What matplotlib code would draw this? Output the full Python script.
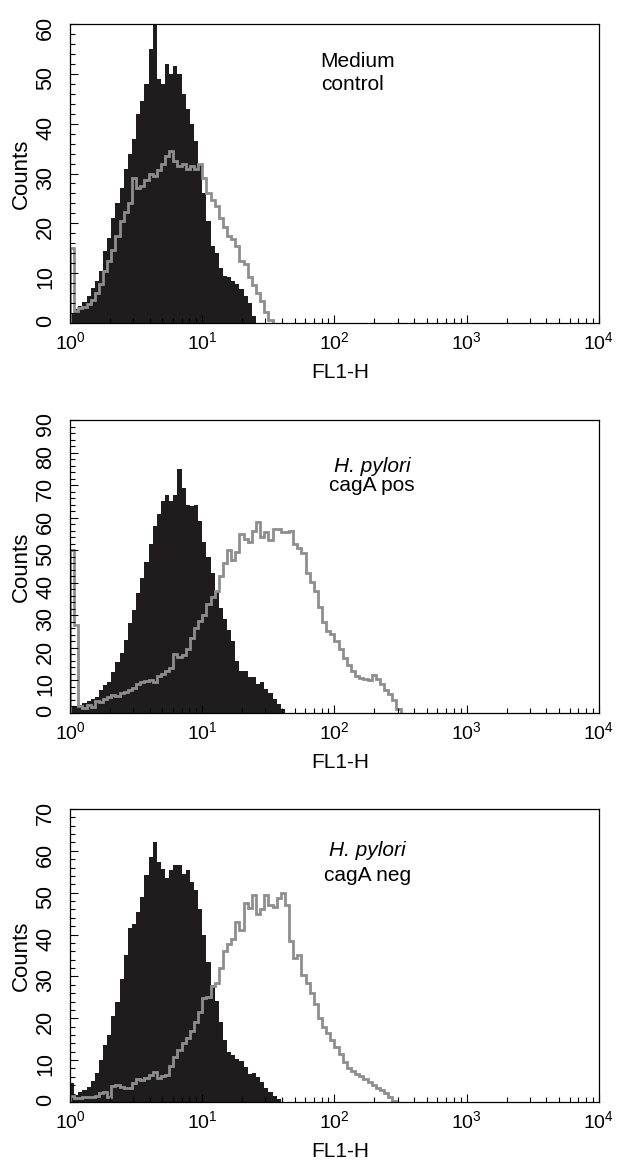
import numpy as np
import matplotlib
matplotlib.use("Agg")
import matplotlib.pyplot as plt
from matplotlib.ticker import MultipleLocator, LogLocator

plt.rcParams['font.family'] = ['Liberation Sans', 'DejaVu Sans']

# ====== DATA ======
# counts per channel; 32 channels per decade, first channel starts at 10^0
CH_PER_DECADE = 32

# Medium control
medium_filled = [2, 2.8, 3.5, 4.2, 5.5, 7, 8.5, 10.5, 14.5, 17, 21, 24, 27, 31, 34,
                 37, 42, 44.5, 48, 55, 60, 49, 48, 52, 50, 51.5, 50, 46, 43, 40,
                 36.5, 32, 26, 20.5, 15.5, 14, 11, 9.5, 9.3, 8.5, 7.8, 6.8, 5.5, 4, 1.5]
medium_line = [15, 2.5, 3, 3.2, 3.8, 4.6, 6, 7.8, 10.5, 12.5, 14.6, 17.5, 20.5, 22.3, 24,
               29, 27, 27.5, 28.7, 30, 29.5, 30.7, 32, 33.5, 34.5, 32.5, 31.5, 32, 31, 31.5,
               31, 32, 29, 26, 24.7, 23.5, 21, 19.3, 17.5, 16.8, 15.5, 12.5, 11.8, 9.3, 7.6,
               6, 4.4, 2.2, 0.5]

# H. pylori cagA pos
pos_filled = [2, 2, 2.5, 3.2, 3.8, 4.2, 5, 7, 8.5, 9.6, 12.5, 15.8, 18.5, 22.5, 27.5,
              31.5, 37, 41.5, 46.5, 52, 57.5, 61, 65, 67, 65, 67, 75, 69, 64, 63.5,
              64, 59, 52.6, 48, 43, 37.5, 32.3, 29, 25.5, 22, 16, 13, 12.8, 11, 11,
              9, 9.6, 7.5, 6, 4.3, 2.8, 1.2]
pos_line = [50, 27, 2, 1.5, 2.5, 1.8, 3.8, 3.5, 4.3, 4.8, 5.4, 5.2, 6, 6.4, 7,
            7.8, 9, 9.6, 9.8, 10, 9.6, 11.4, 12, 12.8, 13.7, 18, 17.3, 17.8, 19.8, 23,
            26, 28.3, 30.1, 33.5, 35.5, 37.5, 42, 46, 50, 47, 49.5, 55, 53.5, 52.6, 56,
            58.8, 54, 55.6, 53, 56.5, 56.5, 55.6, 55.6, 56, 52, 50.6, 49, 43, 40.3, 37.5,
            32.7, 28, 25.1, 24.2, 22, 19.7, 17, 14.6, 12.8, 11.5, 10.8, 10.4, 10.2, 11.6, 10.4,
            9, 7.2, 5.7, 4, 1.2]

# H. pylori cagA neg
neg_filled = [4.5, 1.7, 2.4, 2.8, 3.5, 5, 7, 10, 13.6, 16, 20.6, 24, 29.5, 35, 41.5,
              42.6, 45.5, 49, 54.3, 58.5, 62, 57.4, 55.7, 53.5, 55.5, 56.6, 56.6, 54.5, 55.4, 52.5,
              50.6, 46, 40, 33.5, 28, 24.2, 19, 14.8, 12, 11.2, 10.2, 9.8, 8.4, 6.8, 7,
              6, 4.8, 3.4, 2.3, 1.4, 0.8]
neg_line = [1.5, 0.9, 0.9, 1.1, 1.2, 1.3, 1.5, 2.1, 2.5, 1.3, 3.7, 4.1, 3.5, 3.3, 3.3,
            4.5, 5.6, 5.2, 5.8, 6.5, 7.2, 5.8, 6.2, 6.4, 8.5, 10.8, 12.5, 14.2, 15.2, 17,
            19.2, 21.5, 24.8, 25, 27.6, 28.5, 32, 36, 37.8, 39, 43, 41, 47.5, 46.3, 49.5,
            44.8, 46, 49.5, 47, 46.5, 48.7, 49.9, 47.1, 38.5, 34.5, 35, 30.3, 28.5, 26, 23.5,
            20, 18, 16.4, 14.8, 13.2, 11.5, 9.6, 8.2, 7.4, 6.8, 6.2, 5.6, 4.8, 4, 3.4,
            2.9, 2.2, 1.3, 0.3]

panels = [
    (medium_filled, medium_line, 60, [("Medium", 'normal', 0.474, 0.905, 'left'),
                                      ("control", 'normal', 0.474, 0.830, 'left')]),
    (pos_filled, pos_line, 90, [("H. pylori", 'italic', 0.571, 0.872, 'center'),
                                ("cagA pos", 'normal', 0.571, 0.808, 'center')]),
    (neg_filled, neg_line, 70, [("H. pylori", 'italic', 0.563, 0.889, 'center'),
                                ("cagA neg", 'normal', 0.563, 0.805, 'center')]),
]

# axes boxes in figure fractions (left, bottom, width, height)
boxes = [(0.1124, 0.7230, 0.849, 0.2564),
         (0.1124, 0.3885, 0.849, 0.2513),
         (0.1124, 0.0549, 0.849, 0.2513)]

FIG_W, FIG_H = 623, 1166

fig = plt.figure(figsize=(FIG_W / 100, FIG_H / 100), dpi=100)

for (filled, line, ymax, notes), box in zip(panels, boxes):
    ax = fig.add_axes(box)
    e_fill = 10 ** (np.arange(len(filled) + 1) / CH_PER_DECADE)
    e_line = 10 ** (np.arange(len(line) + 1) / CH_PER_DECADE)
    ax.stairs(filled, e_fill, fill=True, color='#1f1c1d', lw=0)
    ax.stairs(line, e_line, color='#8e8e8e', lw=2.0)

    ax.set_xscale('log')
    ax.set_xlim(1, 1e4)
    ax.set_ylim(0, ymax)
    ax.xaxis.set_major_locator(LogLocator(10))
    ax.xaxis.set_minor_locator(LogLocator(10, subs=range(2, 10)))
    ax.yaxis.set_major_locator(MultipleLocator(10))
    ax.yaxis.set_minor_locator(MultipleLocator(2))
    ax.tick_params(which='both', direction='in', top=False, right=False, width=0.8)
    ax.tick_params(which='major', length=6)
    ax.tick_params(which='minor', length=3.5)
    ax.tick_params(axis='x', pad=6, labelsize=14)
    ax.tick_params(axis='y', labelrotation=90, pad=10, labelsize=15.5)
    for s in ax.spines.values():
        s.set_linewidth(0.9)

    h_px = box[3] * FIG_H
    w_px = box[2] * FIG_W
    ax.set_xlabel("FL1-H", fontsize=15)
    ax.xaxis.set_label_coords(0.51, -40 / h_px)
    ax.set_ylabel("Counts", fontsize=16)
    ax.yaxis.set_label_coords(-38 / w_px, 0.5)

    for txt, style, x, y, ha in notes:
        ax.text(x, y, txt, transform=ax.transAxes, fontsize=15, style=style,
                ha=ha, va='top')

fig.savefig("out.png", dpi=100)
